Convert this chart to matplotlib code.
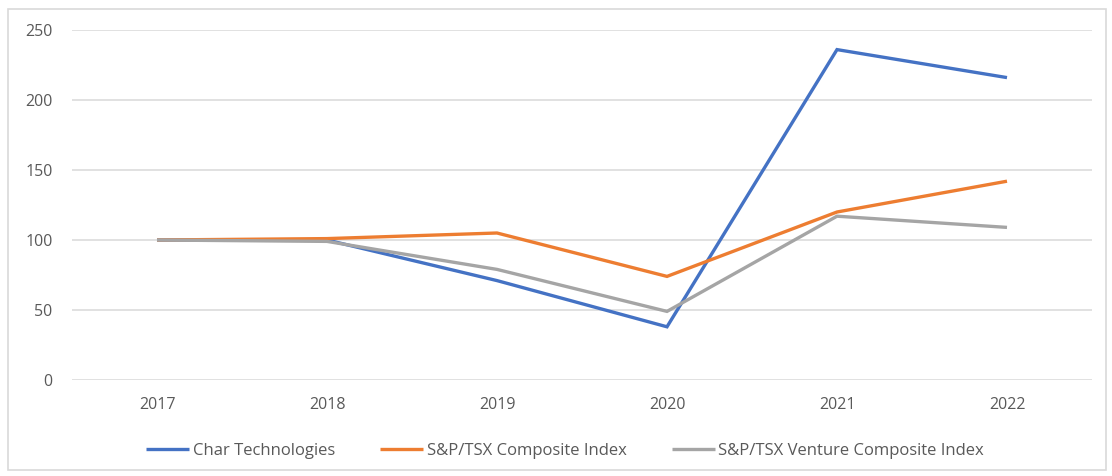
import matplotlib
matplotlib.use("Agg")
import matplotlib.pyplot as plt
from matplotlib.patches import Rectangle

years = ["2017", "2018", "2019", "2020", "2021", "2022"]
char_tech = [100, 100, 71, 38, 236, 216]
tsx_composite = [100, 101, 105, 74, 120, 142]
tsx_venture = [100, 99, 79, 49, 117, 109]
series_names = ["Char Technologies", "S&P/TSX Composite Index", "S&P/TSX Venture Composite Index"]
y_ticks = [0, 50, 100, 150, 200, 250]

colors = ["#4472C4", "#ED7D31", "#A5A5A5"]
text_color = "#595959"
plt.rcParams['font.family'] = ['Open Sans', 'DejaVu Sans']

W, H = 1112, 476
fig = plt.figure(figsize=(W / 100, H / 100), dpi=100)
fig.patches.append(Rectangle((8 / W, 6 / H), (W - 14) / W, (H - 15) / H, transform=fig.transFigure,
                             fill=False, edgecolor="#d9d9d9", linewidth=1.2))

ax = fig.add_axes([72 / W, 96 / H, 1020 / W, 350 / H])
x = list(range(len(years)))
for vals, name, c in zip([char_tech, tsx_composite, tsx_venture], series_names, colors):
    ax.plot(x, vals, color=c, linewidth=2.4, label=name, solid_capstyle='butt', solid_joinstyle='miter')

ax.set_xlim(-0.5, len(years) - 0.5)
ax.set_ylim(0, 250)
ax.set_yticks(y_ticks)
ax.set_xticks(x)
ax.set_xticklabels(years)
ax.grid(axis='y', color="#d9d9d9", linewidth=1.1)
ax.set_axisbelow(True)
for s in ax.spines.values():
    s.set_visible(False)
ax.tick_params(axis='both', length=0, colors=text_color, labelsize=11.5)
ax.tick_params(axis='y', pad=14)
ax.tick_params(axis='x', pad=12)

handles, labels = ax.get_legend_handles_labels()
fig.legend(handles, labels, loc='center', bbox_to_anchor=(565 / W, 1 - 451 / H), ncol=3, frameon=False,
           fontsize=12, labelcolor=text_color, handlelength=2.6, handletextpad=0.2, columnspacing=2.7)

fig.savefig("out.png", dpi=100)
